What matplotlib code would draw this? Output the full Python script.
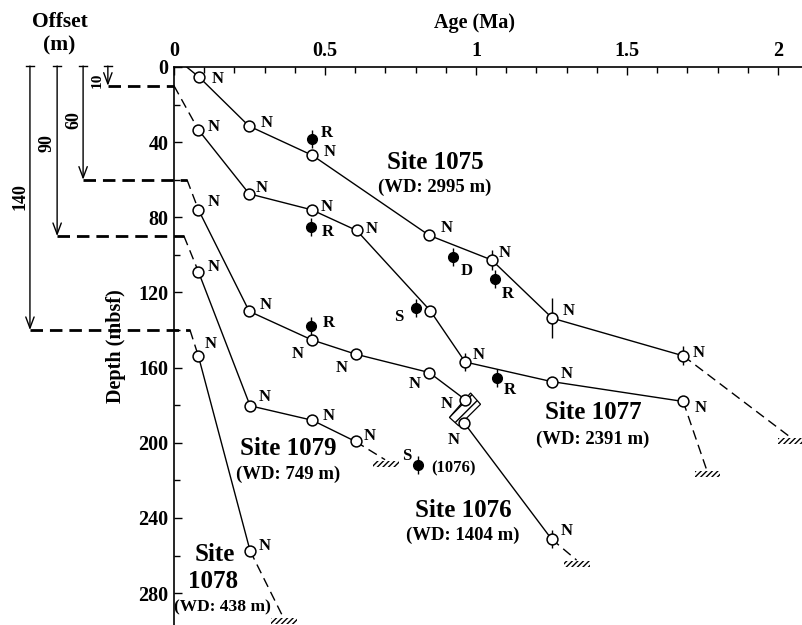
import matplotlib
matplotlib.use('Agg')
import matplotlib.pyplot as plt
from matplotlib.patches import Polygon, Rectangle
from matplotlib.ticker import MultipleLocator

plt.rcParams['font.family'] = ['Liberation Serif', 'DejaVu Serif']
plt.rcParams['font.weight'] = 'bold'

# age (Ma) / depth (mbsf, incl. offset) of datums
sites = ['1075', '1077', '1076', '1079', '1078']
wd = ['2995', '2391', '1404', '749', '438']
offsets = [0, 10, 60, 90, 140]

age_1075 = [0.084, 0.248, 0.458, 0.845, 1.052, 1.253, 1.686]
dep_1075 = [5.5, 31.4, 47.0, 89.6, 102.7, 133.7, 153.7]
err_1075 = [0, 0, 0, 0, 5.3, 10.6, 5.0]
lab_1075 = ['N', 'N', 'N', 'N', 'N', 'N', 'N']

age_1077 = [0.081, 0.249, 0.456, 0.605, 0.848, 0.964, 1.25, 1.686]
dep_1077 = [33.5, 67.5, 76.0, 87.0, 129.6, 157.0, 167.4, 178.0]
err_1077 = [0, 0, 0, 0, 0, 5.0, 0, 0]
lab_1077 = ['N', 'N', 'N', 'N', '', 'N', 'N', 'N']

age_1076 = [0.081, 0.249, 0.456, 0.601, 0.845, 0.964, 0.96, 1.25]
dep_1076 = [76.0, 130.0, 145.2, 152.8, 162.6, 177.0, 189.2, 251.2]
err_1076 = [0, 0, 0, 0, 0, 0, 0, 5.0]
lab_1076 = ['N', 'N', 'N', 'N', 'N', 'N', 'N', 'N']

age_1079 = [0.081, 0.252, 0.458, 0.601]
dep_1079 = [109.0, 180.3, 188.0, 199.3]
err_1079 = [0, 0, 0, 0]
lab_1079 = ['N', 'N', 'N', 'N']

age_1078 = [0.081, 0.252]
dep_1078 = [154.0, 257.5]
err_1078 = [0, 0]
lab_1078 = ['N', 'N']

# extrapolated (dashed) ends
end_age = [2.04, 1.764, 1.333, 0.699, 0.361]
end_dep = [196.9, 214.5, 262.4, 209.0, 292.7]

# filled datums
fill_age = [0.456, 0.925, 1.063, 0.453, 0.801, 1.071, 0.452, 0.809]
fill_dep = [38.5, 101.0, 113.0, 85.3, 128.4, 165.6, 138.0, 212.0]
fill_lab = ['R', 'D', 'R', 'R', 'S', 'R', 'R', 'S']

# hiatus box at site 1076
hiatus_age = [0.912, 0.982, 1.015, 0.943]
hiatus_dep = [186.5, 173.5, 179.5, 191.0]

ages = [age_1075, age_1077, age_1076, age_1079, age_1078]
deps = [dep_1075, dep_1077, dep_1076, dep_1079, dep_1078]
errs = [err_1075, err_1077, err_1076, err_1079, err_1078]
labs = [lab_1075, lab_1077, lab_1076, lab_1079, lab_1078]

# label offsets in pixels (dx, dy up)
lab_off = [
    [(18, -2), (18, 3), (17, 3), (17, 7), (13, 7), (16, 7), (15, 3)],
    [(15, 3), (12, 6), (15, 3), (15, 1), (0, 0), (14, 7), (15, 8), (17, -7)],
    [(15, 8), (16, 6), (-14, -14), (-14, -14), (-15, -11), (-18, -4), (-10, -17), (15, 8)],
    [(15, 5), (15, 9), (16, 4), (14, 5)],
    [(12, 12), (15, 5)],
]
fill_off = [(15, 6), (13, -14), (13, -15), (17, -5), (-17, -9), (12, -12), (18, 3), (-12, 9)]
fill_err = 4.8

# pixel layout: x0=174px, 302px per Ma; y0=67px, 1.879px per m
fig = plt.figure(figsize=(8.02, 6.25), dpi=100)
ax = fig.add_axes([174 / 802, 0, 628 / 802, 558 / 625])
ax.set_xlim(0, 628 / 302)
ax.set_ylim(558 / 1.879, 0)

bold = dict(fontweight='bold')
lw = 1.0

for i in range(len(sites)):
    a, d = ages[i], deps[i]
    ax.plot(a, d, color='k', lw=lw, zorder=2)
    ax.plot([a[-1], end_age[i]], [d[-1], end_dep[i]], color='k', lw=lw,
            ls=(0, (7, 4)), zorder=2)
    ax.add_patch(Rectangle((end_age[i] - 0.04, end_dep[i] + 0.5), 0.085, 3.2,
                           fill=False, lw=0, hatch='//////', zorder=2))
    ax.errorbar(a, d, yerr=errs[i], fmt='none', ecolor='k', elinewidth=lw,
                capsize=0, zorder=3)
    ax.plot(a, d, 'o', ms=7.8, mfc='white', mec='k', mew=1.1, zorder=5)
    for x, y, t, o in zip(a, d, labs[i], lab_off[i]):
        if t:
            ax.annotate(t, (x, y), xytext=o, textcoords='offset pixels',
                        ha='center', va='center', fontsize=12, **bold)

# site 1075 starts at the surface
ax.plot([0.042, age_1075[0]], [0, dep_1075[0]], color='k', lw=lw, zorder=2)

ax.add_patch(Polygon(list(zip(hiatus_age, hiatus_dep)), closed=True, fc='white',
                     ec='k', lw=0.9, hatch='///', zorder=4))

ax.errorbar(fill_age, fill_dep, yerr=fill_err, fmt='o', ms=7, mfc='k', mec='k',
            ecolor='k', elinewidth=lw, capsize=0, zorder=5)
for x, y, t, o in zip(fill_age, fill_dep, fill_lab, fill_off):
    ax.annotate(t, (x, y), xytext=o, textcoords='offset pixels',
                ha='center', va='center', fontsize=12, **bold)
ax.annotate('(1076)', (fill_age[-1], fill_dep[-1]), xytext=(35, -3),
            textcoords='offset pixels', ha='center', va='center', fontsize=12, **bold)

# offset arrows and dashed shift lines left of the axis
arrow_x = [-0.477, -0.387, -0.301, -0.219]
turn_x = [0.053, 0.033, 0.043, 0.0]
lab_xy = [(-0.51, 69.2), (-0.42, 40.4), (-0.331, 28.2), (-0.255, 6.9)]
for j, off in enumerate([140, 90, 60, 10]):
    xa = arrow_x[j]
    ax.annotate('', xy=(xa, off), xytext=(xa, -0.5), annotation_clip=False,
                arrowprops=dict(arrowstyle='->,head_length=0.8,head_width=0.3',
                                lw=1.0, color='k', shrinkA=0, shrinkB=0))
    ax.plot([xa - 0.014, xa + 0.014], [-0.5, -0.5], color='k', lw=1.0, clip_on=False)
    ax.plot([xa, turn_x[j]], [off, off], color='k', lw=2.0, ls=(0, (4.5, 2.5)),
            clip_on=False, zorder=2)
    k = sites.index({140: '1078', 90: '1079', 60: '1076', 10: '1077'}[off])
    ax.plot([turn_x[j], ages[k][0]], [off, deps[k][0]], color='k', lw=1.0,
            ls=(0, (7, 4)), zorder=2)
    ax.text(lab_xy[j][0], lab_xy[j][1], str(off), rotation=90, ha='center',
            va='center', fontsize=11 if off == 10 else 13, **bold)

# site labels
site_xy = [(0.864, 50.6, 63.9), (1.387, 184.0, 198.0), (0.957, 235.8, 249.0),
           (0.377, 202.8, 217.0)]
for i, (x, y1, y2) in enumerate(site_xy):
    ax.text(x, y1, 'Site ' + sites[i], ha='center', va='center', fontsize=18, **bold)
    ax.text(x, y2, '(WD: ' + wd[i] + ' m)', ha='center', va='center', fontsize=13.5, **bold)
ax.text(0.136, 259.7, 'Site', ha='center', va='center', fontsize=18, **bold)
ax.text(0.129, 274.0, sites[4], ha='center', va='center', fontsize=18, **bold)
ax.text(0.159, 287.4, '(WD: ' + wd[4] + ' m)', ha='center', va='center', fontsize=12.5, **bold)

# axes styling
for s in ['bottom', 'right']:
    ax.spines[s].set_visible(False)
for s in ['top', 'left']:
    ax.spines[s].set_linewidth(1.2)
ax.xaxis.tick_top()
ax.xaxis.set_label_position('top')
ax.set_xticks([0, 0.5, 1, 1.5, 2])
ax.set_xticklabels(['0', '0.5', '1', '1.5', '2'])
ax.xaxis.set_minor_locator(MultipleLocator(0.1))
ax.yaxis.set_major_locator(MultipleLocator(40))
ax.yaxis.set_minor_locator(MultipleLocator(20))
ax.tick_params(which='both', direction='in', labelsize=14.5, width=1.0)
ax.tick_params(which='major', length=6, pad=4)
ax.tick_params(which='minor', length=4.5)
for t in ax.get_xticklabels() + ax.get_yticklabels():
    t.set_fontweight('bold')

ax.set_xlabel('Age (Ma)', fontsize=14.5, va='center', **bold)
ax.xaxis.set_label_coords((475 - 174) / 628, (625 - 23) / 558)
ax.set_ylabel('Depth (mbsf)', fontsize=14.5, va='center', **bold)
ax.yaxis.set_label_coords((116 - 174) / 628, 0.5)

fig.text(60 / 802, 1 - 22 / 625, 'Offset', ha='center', va='center', fontsize=15.5, **bold)
fig.text(59 / 802, 1 - 45 / 625, '(m)', ha='center', va='center', fontsize=15.5, **bold)

fig.savefig('out.png', dpi=100)
